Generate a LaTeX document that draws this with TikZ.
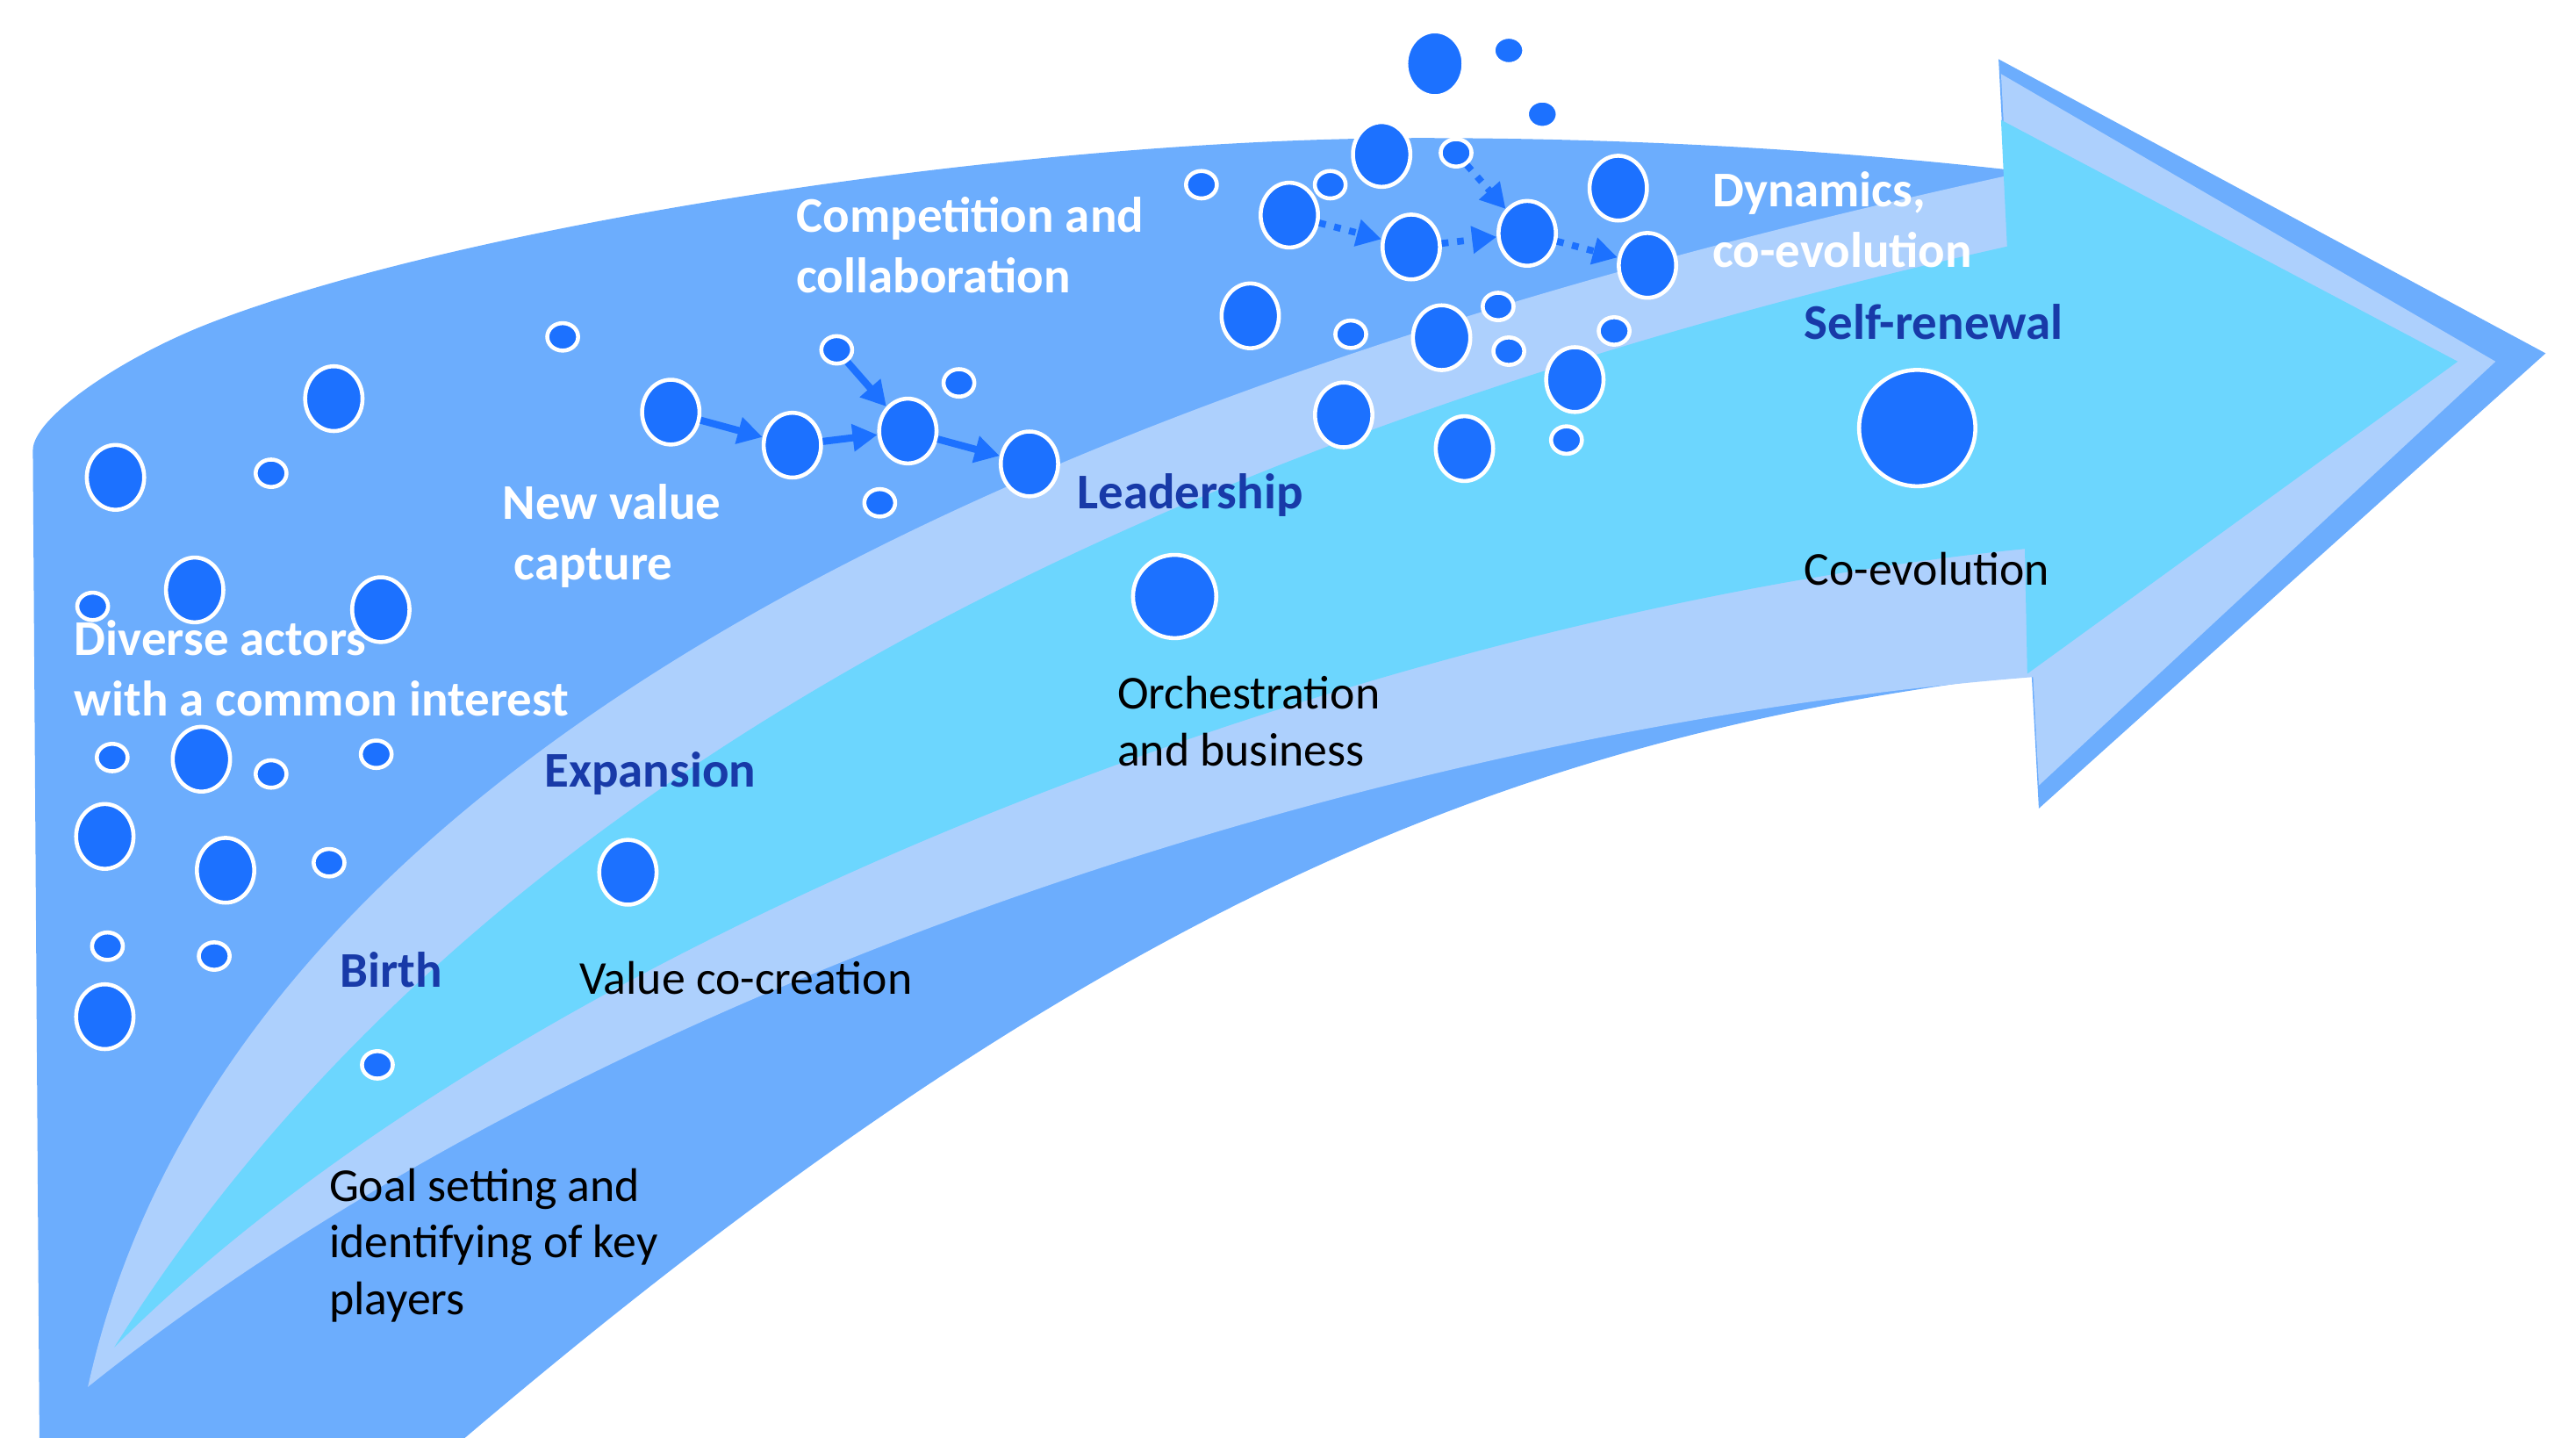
\documentclass[tikz,border=0pt]{standalone}
\usepackage{fontspec}
\setmainfont{Carlito}
\usetikzlibrary{arrows.meta,shapes.geometric}

\definecolor{bandmid}{RGB}{108,173,253}
\definecolor{bandlight}{RGB}{173,208,253}
\definecolor{bandcyan}{RGB}{108,214,254}
\definecolor{actorblue}{RGB}{28,113,255}
\definecolor{stageblue}{RGB}{24,58,168}

% several lines, first baseline on the node's base anchor
\newcommand{\textlines}[1]{\begin{tabular}[t]{@{}l@{}}#1\end{tabular}}

\begin{document}
\begin{tikzpicture}[x=0.018718cm,y=-0.018718cm,
  actor/.style={ellipse, fill=actorblue, draw=white, line width=1.3pt, inner sep=0pt},
  bigactor/.style={actor, minimum width=18.6pt, minimum height=21pt},
  smallactor/.style={actor, minimum width=10pt, minimum height=8.9pt},
  flow/.style={draw=actorblue, line width=2.3pt, -{Triangle[length=8pt,width=8.5pt]}},
  dotflow/.style={flow, line width=2.2pt, dash pattern=on 2.2pt off 2.8pt},
  phase/.style={anchor=base west, inner sep=0pt, text=white, font=\fontsize{16.2}{19.65}\selectfont\bfseries},
  stage/.style={anchor=base west, inner sep=0pt, text=stageblue, font=\fontsize{16.2}{19.65}\selectfont\bfseries},
  note/.style={anchor=base west, inner sep=0pt, text=black, font=\fontsize{15.3}{18.4}\selectfont}
]
\useasboundingbox (0,0) rectangle (1568,875);
\clip (0,0) rectangle (1568,875);

% outer band with the arrow head
\fill[bandmid] (24,875) -- (20,274)
  .. controls (20,255) and (70,220) .. (123,198.5)
  .. controls (273,138.5) and (615,84) .. (865,84)
  .. controls (1000,84) and (1120,92) .. (1220,103)
  -- (1216.5,36) -- (1549.5,215) -- (1241,492) -- (1236.6,410)
  .. controls (940,446) and (683,535) .. (283,875) -- cycle;

% light middle band
\fill[bandlight] (53.5,844) .. controls (141.5,444) and (668,228) .. (1221.3,107)
  -- (1218,45) -- (1519,220) -- (1241,478) -- (1237.5,412)
  .. controls (832,444) and (353.5,604) .. (53.5,844) -- cycle;

% inner cyan band
\fill[bandcyan] (69.6,819.8) .. controls (289.6,467.8) and (718,262.5) .. (1221.7,150)
  -- (1218,73) -- (1496,220) -- (1234,410) -- (1232.5,334)
  .. controls (832,374) and (319.6,569.8) .. (69.6,819.8) -- cycle;

% actors of the early ecosystem
\node[bigactor] (l1) at (203.2,242.6) {};
\node[bigactor] (l2) at (70.3,290.5) {};
\node[smallactor] (l3) at (165,288) {};
\node[smallactor] (l4) at (342.5,205) {};
\node[bigactor] (l5) at (118.5,359) {};
\node[smallactor] (l6) at (56.4,369) {};
\node[bigactor] (l7) at (231.8,371) {};
\node[smallactor] (l8) at (68.3,461) {};
\node[bigactor] (l9) at (122.6,462) {};
\node[smallactor] (l10) at (165,471) {};
\node[smallactor] (l11) at (229,459) {};
\node[bigactor] (l12) at (63.8,509) {};
\node[bigactor] (l13) at (137.3,529.6) {};
\node[smallactor] (l14) at (200.3,525) {};
\node[smallactor] (l15) at (65.4,575.8) {};
\node[smallactor] (l16) at (130.4,581.8) {};
\node[bigactor] (l17) at (63.8,618.7) {};
\node[smallactor] (l18) at (229.7,648) {};
\node[bigactor] (expand) at (382.2,530.8) {};

% value capture chain
\node[bigactor] (m1) at (408.3,250.8) {};
\node[bigactor] (m2) at (482.3,270.9) {};
\node[bigactor] (m3) at (552.6,262.3) {};
\node[bigactor] (m4) at (626.6,282.3) {};
\node[smallactor] (m5) at (509.3,212.9) {};
\node[smallactor] (m6) at (583.7,233) {};
\node[smallactor] (m7) at (535.5,306) {};

\node[actor, minimum size=27pt] (lead) at (715,363) {};

% dynamic cluster
\node[bigactor] (u1) at (873.4,38.8) {};
\node[smallactor] (u2) at (918.4,30.7) {};
\node[smallactor] (u3) at (938.8,69.5) {};
\node[bigactor] (u4) at (841,94) {};
\node[smallactor] (u5) at (886.3,93) {};
\node[smallactor] (u6) at (731.3,112.4) {};
\node[smallactor] (u7) at (809.7,112.4) {};
\node[bigactor] (u8) at (784.8,130.9) {};
\node[bigactor] (u9) at (859,150.3) {};
\node[bigactor] (u10) at (929.6,142) {};
\node[bigactor] (u11) at (985,114.5) {};
\node[bigactor] (u12) at (1002.8,161.5) {};
\node[bigactor] (u13) at (761,192.2) {};
\node[smallactor] (u14) at (822.2,203.4) {};
\node[bigactor] (u15) at (877.5,205.5) {};
\node[smallactor] (u16) at (911.9,186.5) {};
\node[smallactor] (u17) at (918.4,213.7) {};
\node[smallactor] (u18) at (982.5,201.4) {};
\node[bigactor] (u19) at (958.6,231) {};
\node[bigactor] (u20) at (817.9,252.5) {};
\node[bigactor] (u21) at (891.4,273) {};
\node[smallactor] (u22) at (953.5,267.8) {};

\node[actor, minimum size=37.7pt] (renew) at (1167,260.5) {};

% connections
\draw[flow] (m1) -- (m2);
\draw[flow] (m2) -- (m3);
\draw[flow] (m3) -- (m4);
\draw[flow] (m5) -- (m3);
\draw[dotflow] (u8) -- (u9);
\draw[dotflow] (u9) -- (u10);
\draw[dotflow] (u10) -- (u12);
\draw[dotflow] (u5) -- (u10);

% phase descriptions
\node[phase] (t1) at (45,398.8) {\textlines{Diverse actors\\with a common interest}};
\node[phase] (t2) at (305.7,315.8) {\textlines{New value\\\hspace*{3.7pt}capture}};
\node[phase] (t3) at (484.4,141.3) {\textlines{Competition and\\collaboration}};
\node[phase] (t4) at (1042,125.7) {\textlines{Dynamics,\\co-evolution}};

% stage names
\node[stage] (s1) at (206.5,601) {Birth};
\node[stage] (s2) at (331,479.2) {Expansion};
\node[stage] (s3) at (655.3,309.8) {Leadership};
\node[stage] (s4) at (1097.8,206.5) {Self-renewal};

% stage activities
\node[note] (n1) at (200,731) {\textlines{Goal setting and\\identifying of key\\players}};
\node[note] (n2) at (352.4,605) {Value co-creation};
\node[note] (n3) at (679.8,431.5) {\textlines{Orchestration\\and business}};
\node[note] (n4) at (1098,356) {Co-evolution};
\end{tikzpicture}
\end{document}
